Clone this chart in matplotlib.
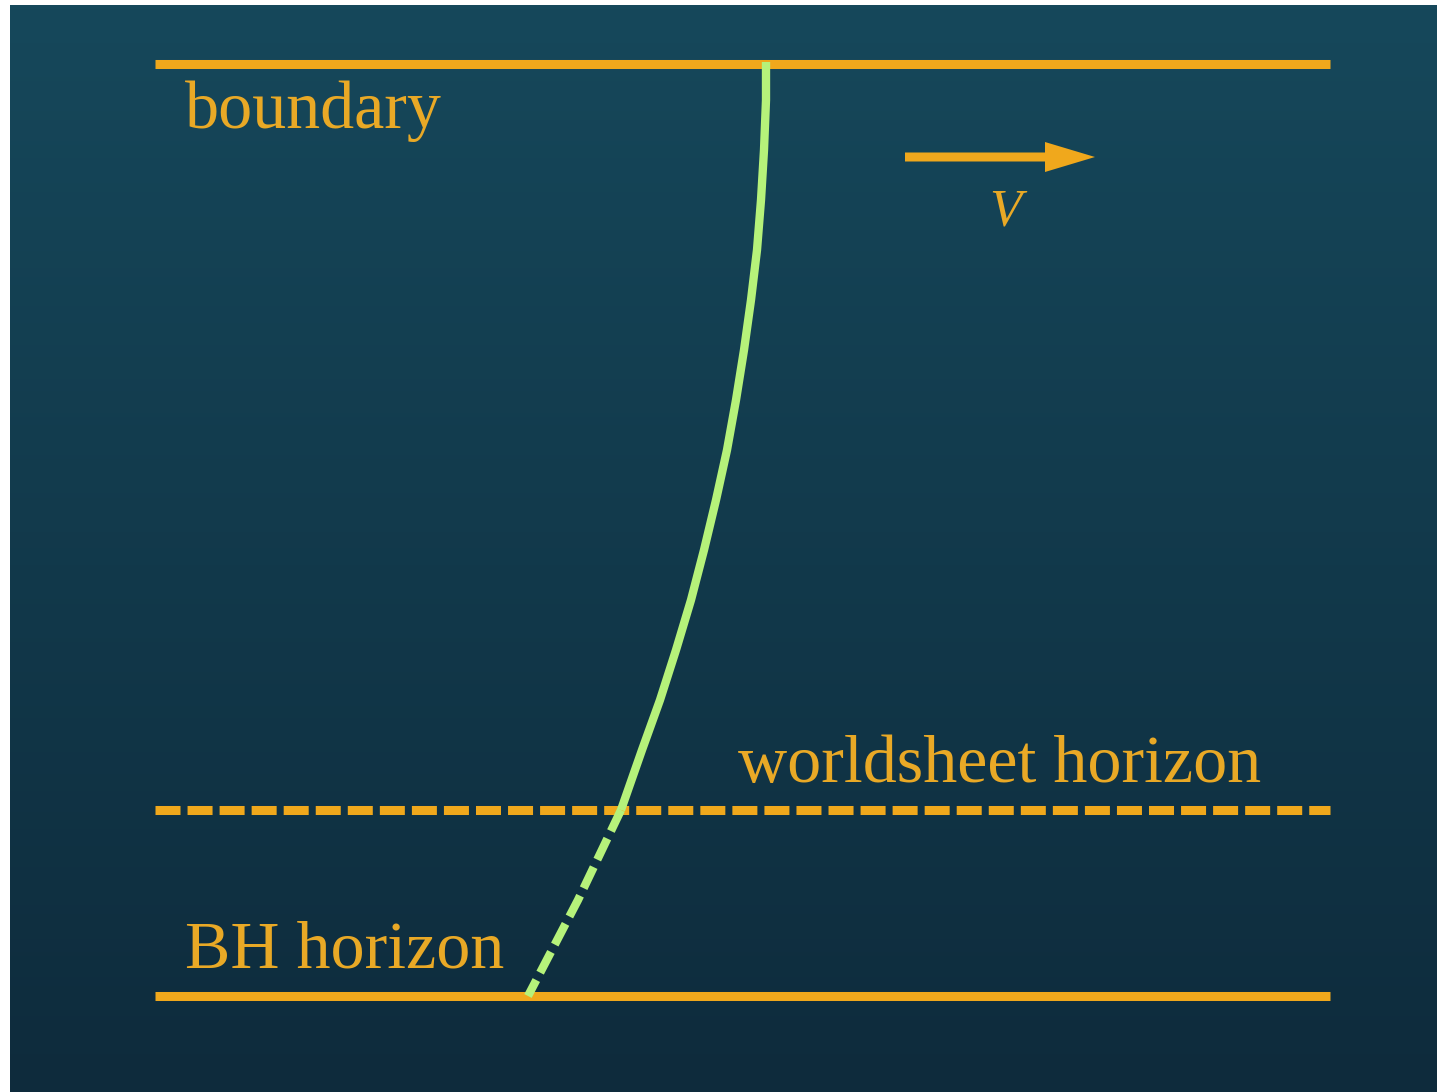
import numpy as np
import matplotlib
matplotlib.use("Agg")
import matplotlib.pyplot as plt

# levels of the three horizontal lines (picture rows)
boundary_y = 64
ws_horizon_y = 810
bh_horizon_y = 996
line_x = [155, 1330]

# string profile: solid part down to the worldsheet horizon
string_y = [62, 100, 150, 200, 250, 300, 350, 400, 450, 500, 550, 600, 650, 700, 750, 810]
string_x = [766, 766, 764, 761, 757, 751, 744, 736, 727, 716, 704, 691, 676, 660, 642, 621]
# dashed part below the worldsheet horizon
tail_y = [810, 900, 996]
tail_x = [621, 578, 528]

labels = ["boundary", "worldsheet horizon", "BH horizon"]
label_pos = [(185, 128), (738, 782), (185, 968)]

orange = "#f0a81c"
text_orange = "#e9a926"
green = "#b6f27a"

W, H = 1437, 1092
fig = plt.figure(figsize=(W / 100, H / 100), dpi=100, facecolor="white")
ax = fig.add_axes([0, 0, 1, 1])
ax.set_xlim(0, W)
ax.set_ylim(H, 0)
ax.axis("off")

# background gradient
top = np.array([0x16, 0x48, 0x5b]) / 255
bot = np.array([0x0e, 0x2b, 0x3c]) / 255
t = np.linspace(0, 1, 256)[:, None, None]
grad = top * (1 - t) + bot * t
ax.imshow(grad, extent=(10, W, H, 5), aspect="auto", zorder=0)

lw = 6.5
ax.plot(line_x, [boundary_y] * 2, color=orange, lw=lw, solid_capstyle="butt", zorder=2)
ax.plot(line_x, [bh_horizon_y] * 2, color=orange, lw=lw, solid_capstyle="butt", zorder=2)
ax.plot(line_x, [ws_horizon_y] * 2, color=orange, lw=lw, dashes=(2.77, 0.78),
        dash_capstyle="butt", zorder=2)

ax.plot(string_x, string_y, color=green, lw=6, solid_capstyle="butt",
        solid_joinstyle="round", zorder=3)
ax.plot(tail_x, tail_y, color=green, lw=6, dashes=(2.8, 1.0),
        dash_capstyle="butt", zorder=3)

# velocity arrow
ax.arrow(905, 157, 190, 0, width=9, head_width=30, head_length=50,
         length_includes_head=True, color=orange, lw=0, zorder=4)
ax.text(1005, 226, "V", color=text_orange, fontsize=38, fontstyle="italic",
        family="Liberation Serif", ha="center", va="baseline", zorder=4)

for s, (x, y) in zip(labels, label_pos):
    ax.text(x, y, s, color=text_orange, fontsize=49, family="Liberation Serif",
            ha="left", va="baseline", zorder=4)

fig.savefig("out.png", dpi=100, facecolor="white")
